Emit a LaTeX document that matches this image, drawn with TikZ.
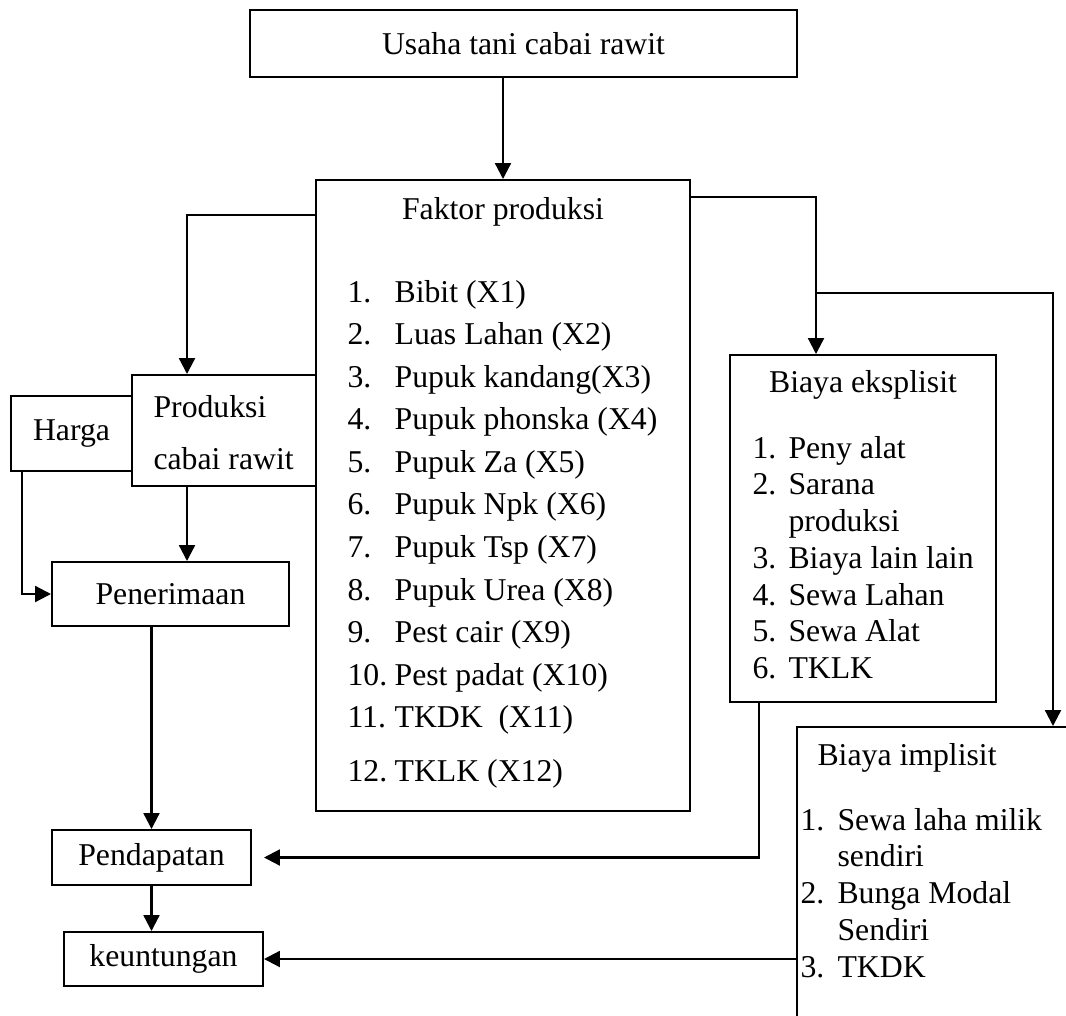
\documentclass[tikz,border=0pt]{standalone}
\usepackage{fontspec}
\setmainfont{Liberation Serif}
\usepackage{tikz}
\usetikzlibrary{arrows.meta,positioning,calc,fit}
\tikzset{
  box/.style={draw=black, line width=0.75pt, inner sep=0pt},
  boxtitle/.style={inner sep=0pt, font=\fontsize{12}{14}\selectfont},
  faklist/.style={inner sep=0pt, anchor=base west, font=\fontsize{12}{16.1}\selectfont},
  costlist/.style={inner sep=0pt, anchor=base west, font=\fontsize{12}{13.9}\selectfont},
  arrow/.style={-{Triangle[length=6pt,width=6pt]}, line width=0.85pt}
}

\begin{document}
\begin{tikzpicture}[x=0.378pt, y=-0.378pt]
\useasboundingbox (0,0) rectangle (1066,1016);
\clip (0,0) rectangle (1066,1016);
\node[box, fit={(250,10) (797,77)}] (usaha) {};
\node[box, fit={(316,180) (690,811)}] (faktor) {};
\node[box, fit={(132,375) (316,486)}] (prod) {};
\node[box, fit={(11,396) (132,471)}] (harga) {};
\node[box, fit={(52,562) (289,626)}] (terima) {};
\node[box, fit={(52,830) (251,885)}] (dapat) {};
\node[box, fit={(64,932) (263,986)}] (untung) {};
\node[box, fit={(730,355) (996,702)}] (eksplisit) {};
\node[box, fit={(797,727) (1090,1040)}] (implisit) {};

\node[boxtitle] (usahatext) at (usaha.center) {Usaha tani cabai rawit};
\node[boxtitle] (hargatext) at (harga.center) {Harga};
\node[boxtitle] (terimatext) at (terima.center) {Penerimaan};
\node[boxtitle] (dapattext) at (dapat.center) {Pendapatan};
\node[boxtitle] (untungtext) at (untung.center) {keuntungan};
\node[boxtitle] (faktortitle) at (503,212) {Faktor produksi};
\node[faklist] (faktorlist) at (347,302) {\begin{tabular}[t]{@{}p{17.8pt}@{}l@{}}
1. & Bibit (X1)\\
2. & Luas Lahan (X2)\\
3. & Pupuk kandang(X3)\\
4. & Pupuk phonska (X4)\\
5. & Pupuk Za (X5)\\
6. & Pupuk Npk (X6)\\
7. & Pupuk Tsp (X7)\\
8. & Pupuk Urea (X8)\\
9. & Pest cair (X9)\\
10. & Pest padat (X10)\\
11. & TKDK\ \ (X11)\\[4pt]
12. & TKLK (X12)
\end{tabular}};
\node[faklist, font=\fontsize{12}{20}\selectfont] (prodtext) at (153,417) {\begin{tabular}[t]{@{}l@{}}Produksi\\cabai rawit\end{tabular}};
\node[boxtitle] (ekstitle) at (863,385) {Biaya eksplisit};
\node[costlist] (ekslist) at (752,458) {\begin{tabular}[t]{@{}p{13.6pt}@{}l@{}}
1. & Peny alat\\
2. & Sarana\\
 & produksi\\
3. & Biaya lain lain\\
4. & Sewa Lahan\\
5. & Sewa Alat\\
6. & TKLK
\end{tabular}};
\node[boxtitle, anchor=west] (imptitle) at (817,758) {Biaya implisit};
\node[costlist] (implist) at (800,830) {\begin{tabular}[t]{@{}p{14pt}@{}l@{}}
1. & Sewa laha milik\\
 & sendiri\\
2. & Bunga Modal\\
 & Sendiri\\
3. & TKDK
\end{tabular}};

\draw[arrow] (usaha.south -| faktor.north) -- (faktor.north);
\draw[arrow] ($(faktor.north west)+(0,36)$) -| ($(prod.north west)+(56,0)$);
\draw[arrow] ($(faktor.north east)+(0,18)$) -| ($(eksplisit.north west)+(87,0)$);
\coordinate (cabang) at ($(eksplisit.north west)+(87,-61)$);
\draw[arrow] (cabang) -| ($(implisit.north west)+(257,0)$);
\draw[arrow] ($(harga.south west)+(12,0)$) |- (terima.west);
\draw[arrow] ($(prod.south west)+(56,0)$) coordinate (turun) -- (turun |- terima.north);
\draw[arrow] (terima.south -| dapat.north) -- (dapat.north);
\draw[arrow] (dapat.south) -- (dapat.south |- untung.north);
\draw[arrow] ($(eksplisit.south west)+(30,0)$) |- ($(dapat.east)+(12,0)$);
\draw[arrow] (implisit.west |- untung.east) -- (untung.east);
\end{tikzpicture}
\end{document}
